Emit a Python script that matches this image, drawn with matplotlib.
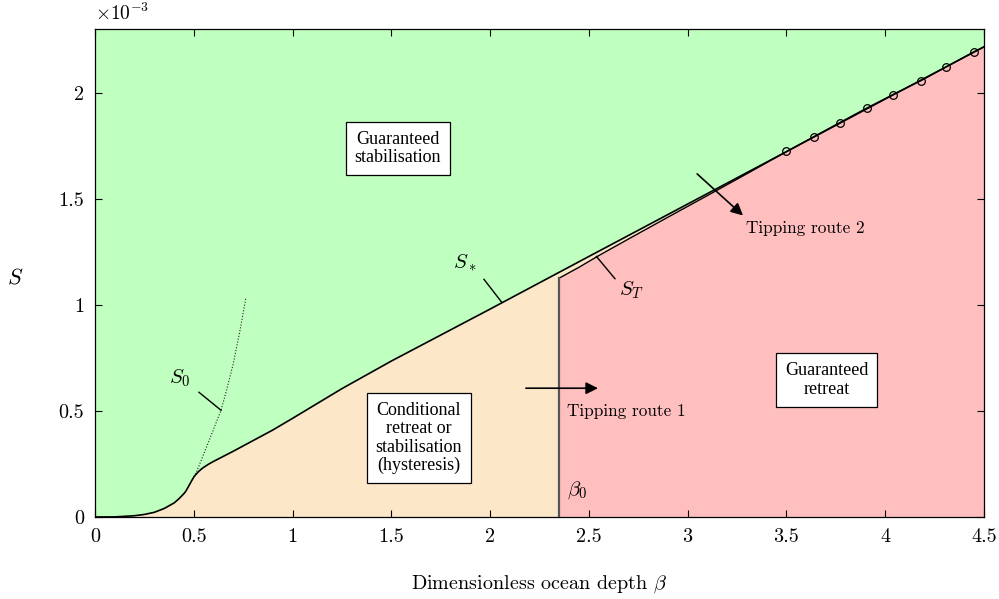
import matplotlib
matplotlib.use("Agg")
import matplotlib.pyplot as plt

plt.rcParams['font.family'] = 'serif'
plt.rcParams['font.serif'] = ['cmr10']
plt.rcParams['mathtext.fontset'] = 'cm'
plt.rcParams['axes.unicode_minus'] = False
plt.rcParams['axes.formatter.use_mathtext'] = True

# S values are in units of 1e-3
beta_star = [0, 0.1, 0.2, 0.25, 0.3, 0.35, 0.4, 0.425, 0.45, 0.46, 0.475, 0.49, 0.5, 0.51,
             0.525, 0.54, 0.55, 0.575, 0.6, 0.7, 0.8, 0.9, 1.0, 1.25, 1.5, 2.0, 2.5, 3.0,
             3.5, 4.0, 4.5]
s_star = [0, 0.0005, 0.006, 0.012, 0.022, 0.04, 0.066, 0.086, 0.11, 0.122, 0.147, 0.172,
          0.188, 0.2, 0.215, 0.227, 0.234, 0.249, 0.262, 0.31, 0.36, 0.41, 0.465, 0.605,
          0.735, 0.98, 1.228, 1.475, 1.722, 1.97, 2.216]

beta_0 = 2.35
beta_t = [2.35, 2.45, 2.55, 2.7, 2.9, 3.1, 3.3, 3.5, 3.64, 3.77, 3.91, 4.04, 4.18, 4.31, 4.45, 4.5]
s_t = [1.126, 1.177, 1.232, 1.31, 1.413, 1.515, 1.618, 1.722, 1.793, 1.859, 1.929, 1.991,
       2.056, 2.122, 2.193, 2.216]

# circles along the tipping curve
beta_circ = [3.5, 3.64, 3.77, 3.91, 4.04, 4.18, 4.31, 4.45]
s_circ = [1.727, 1.793, 1.859, 1.929, 1.991, 2.056, 2.122, 2.193]

beta_s0 = [0.5, 0.514, 0.565, 0.638, 0.666, 0.70, 0.734, 0.764]
s_s0 = [0.19, 0.213, 0.331, 0.503, 0.598, 0.723, 0.88, 1.034]

xticks = [0, 0.5, 1, 1.5, 2, 2.5, 3, 3.5, 4, 4.5]
xticklabels = ['0', '0.5', '1', '1.5', '2', '2.5', '3', '3.5', '4', '4.5']
yticks = [0, 0.5, 1, 1.5, 2]
yticklabels = ['0', '0.5', '1', '1.5', '2']

green = '#bfffbf'
peach = '#fce8c8'
pink = '#ffbfbf'

fig = plt.figure(figsize=(9.99, 5.99), dpi=100)
ax = fig.add_axes([0.0951, 0.1369, 0.8899, 0.8147])
ax.set_facecolor(green)

ax.fill_between(beta_star, 0, s_star, color=peach, lw=0)
ax.fill_between(beta_t, 0, s_t, color=pink, lw=0)

ax.plot(beta_star, s_star, color='black', lw=1.2)
ax.plot(beta_t, s_t, color='black', lw=1.0)
ax.plot([beta_0, beta_0], [0, s_t[0]], color='#555555', lw=1.6)
ax.plot(beta_circ, s_circ, 'o', mfc='none', mec='black', ms=5.5, mew=0.9)
ax.plot(beta_s0, s_s0, color='#222222', lw=0.8, ls=(0, (1, 1.6)))

# leader lines for the curve labels
ax.plot([0.526, 0.638], [0.588, 0.503], color='black', lw=1)
ax.plot([1.969, 2.058], [1.12, 1.013], color='black', lw=1)
ax.plot([2.538, 2.632], [1.228, 1.123], color='black', lw=1)

ax.text(0.43, 0.654, '$S_0$', fontsize=15, ha='center', va='center')
ax.text(1.872, 1.2, '$S_*$', fontsize=15, ha='center', va='center')
ax.text(2.718, 1.068, '$S_T$', fontsize=15, ha='center', va='center')
ax.text(2.387, 0.127, r'$\beta_0$', fontsize=15, ha='left', va='center')

arrow = dict(arrowstyle='-|>', color='black', lw=1.2, mutation_scale=18, shrinkA=0, shrinkB=0)
ax.annotate('', xy=(2.546, 0.607), xytext=(2.181, 0.607), arrowprops=arrow)
ax.annotate('', xy=(3.28, 1.421), xytext=(3.048, 1.617), arrowprops=arrow)
ax.text(2.389, 0.499, 'Tipping route 1', fontsize=12.4, ha='left', va='center')
ax.text(3.295, 1.36, 'Tipping route 2', fontsize=12.4, ha='left', va='center')

box = dict(boxstyle='square,pad=0.5', fc='white', ec='black', lw=0.9)
ax.text(1.533, 1.736, 'Guaranteed\nstabilisation', fontsize=13, family='Liberation Serif',
        ha='center', va='center', bbox=box, linespacing=1.1)
ax.text(1.64, 0.372, 'Conditional\nretreat or\nstabilisation\n(hysteresis)', fontsize=13,
        family='Liberation Serif', ha='center', va='center', bbox=box, linespacing=1.1)
ax.text(3.704, 0.645, 'Guaranteed\nretreat', fontsize=13, family='Liberation Serif',
        ha='center', va='center', bbox=box, linespacing=1.1)

ax.set_xlim(0, 4.5)
ax.set_ylim(0, 2.3)
ax.set_xticks(xticks)
ax.set_xticklabels(xticklabels)
ax.set_yticks(yticks)
ax.set_yticklabels(yticklabels)
ax.tick_params(direction='in', top=True, right=True, length=5, width=0.8, labelsize=14.5, pad=8)
for sp in ax.spines.values():
    sp.set_linewidth(0.9)

ax.text(0.0, 1.01, r'$\times10^{-3}$', transform=ax.transAxes, fontsize=14, ha='left', va='bottom')
ax.set_xlabel(r'Dimensionless ocean depth $\beta$', fontsize=14.5, labelpad=20)
ax.set_ylabel('$S$', fontsize=16, rotation=0)
ax.yaxis.set_label_coords(-0.09, 0.47)

fig.savefig('out.png', dpi=100)
